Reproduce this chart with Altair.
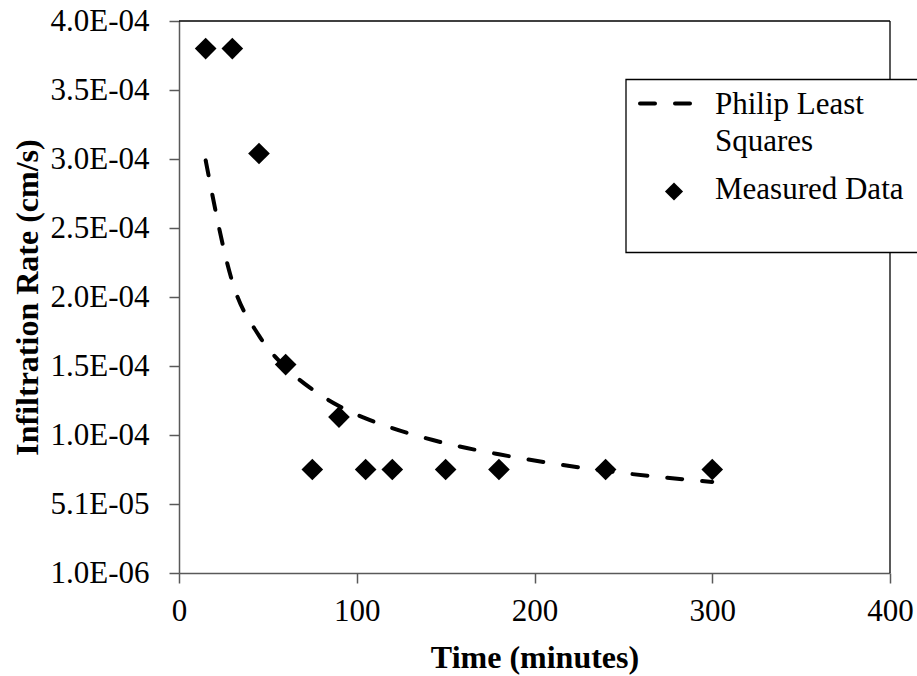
import altair as alt
import pandas as pd

# ---- data ----
meas_t = [15, 30, 45, 60, 75, 90, 105, 120, 150, 180, 240, 300]
meas_v = [3.81e-4, 3.81e-4, 3.05e-4, 1.52e-4, 7.6e-5, 1.14e-4,
          7.6e-5, 7.6e-5, 7.6e-5, 7.6e-5, 7.6e-5, 7.6e-5]
fit_t = [15, 30, 45, 60, 75, 90, 105, 120, 150, 180, 240, 300]
fit_v = [3.00e-4, 2.12e-4, 1.73e-4, 1.50e-4, 1.34e-4, 1.22e-4,
         1.13e-4, 1.06e-4, 9.5e-5, 8.7e-5, 7.5e-5, 6.7e-5]
x_ticks = [0, 100, 200, 300, 400]
y_ticks = [1.0e-6, 5.1e-5, 1.01e-4, 1.51e-4, 2.01e-4, 2.51e-4, 3.01e-4, 3.51e-4, 4.01e-4]
series = ["Philip Least Squares", "Measured Data"]
x_title = "Time (minutes)"
y_title = "Infiltration Rate (cm/s)"

FONT = "Liberation Serif"
W, H = 711, 552

meas_df = pd.DataFrame({"t": meas_t, "v": meas_v})
fit_df = pd.DataFrame({"t": fit_t, "v": fit_v})

xs = alt.Scale(domain=[x_ticks[0], x_ticks[-1]], nice=False, zero=False)
ys = alt.Scale(domain=[y_ticks[0], y_ticks[-1]], nice=False, zero=False)

x_axis = alt.Axis(values=x_ticks, title=x_title, format="d", labelFlush=False,
                  labelBaseline="alphabetic", labelPadding=37, labelOverlap=False,
                  titleX=W / 2, titleY=94, titleBaseline="alphabetic", titleAlign="center")
y_axis = alt.Axis(values=y_ticks, title=y_title, labelPadding=20, labelOverlap=False,
                  labelFlush=False,
                  labelExpr="replace(format(datum.value, '.1e'), 'e-', 'E-0')",
                  titleX=-141.5, titleY=H / 2, titleBaseline="alphabetic", titleAlign="center")

X = alt.X("t:Q", scale=xs, axis=x_axis)
Y = alt.Y("v:Q", scale=ys, axis=y_axis)

# frame (top and right border) drawn through the scales
top_df = pd.DataFrame({"t": [x_ticks[0]], "t2": [x_ticks[-1]], "v": [y_ticks[-1]]})
right_df = pd.DataFrame({"t": [x_ticks[-1]], "v": [y_ticks[0]], "v2": [y_ticks[-1]]})
top_rule = alt.Chart(top_df).mark_rule(color="black", strokeWidth=1.3).encode(
    x=X, x2="t2:Q", y=Y)
right_rule = alt.Chart(right_df).mark_rule(color="black", strokeWidth=1.3).encode(
    x=X, y=Y, y2="v2:Q")

line = alt.Chart(fit_df).mark_line(
    color="black", strokeWidth=4, strokeDash=[15, 20], strokeCap="round",
    interpolate="monotone").encode(x=X, y=Y)

pts = alt.Chart(meas_df).mark_point(
    shape="diamond", filled=True, size=470, color="black", opacity=1).encode(x=X, y=Y)

# ---- legend box ----
one = pd.DataFrame({"k": [0]})
leg_box = alt.Chart(one).mark_rect(fill="white", stroke="black", strokeWidth=1.3).encode(
    x=alt.value(447), x2=alt.value(760), y=alt.value(58.5), y2=alt.value(231.5))
leg_dash = alt.Chart(one).mark_rule(
    color="black", strokeWidth=4, strokeDash=[15, 20], strokeCap="round").encode(
    x=alt.value(461), x2=alt.value(511), y=alt.value(82.5))
leg_diam = alt.Chart(one).mark_point(
    shape="diamond", filled=True, size=330, color="black", opacity=1).encode(
    x=alt.value(495), y=alt.value(170.5))
lab1 = pd.DataFrame({"label": [series[0].replace("Least ", "Least\n")]})
lab2 = pd.DataFrame({"label": [series[1]]})
leg_t1 = alt.Chart(lab1).mark_text(
    font=FONT, fontSize=31, align="left", baseline="alphabetic", color="black",
    lineBreak="\n", lineHeight=37).encode(
    x=alt.value(536), y=alt.value(92.5), text="label:N")
leg_t2 = alt.Chart(lab2).mark_text(
    font=FONT, fontSize=31, align="left", baseline="alphabetic", color="black").encode(
    x=alt.value(536), y=alt.value(177.5), text="label:N")

chart = alt.layer(
    top_rule, right_rule, line, pts, leg_box, leg_dash, leg_diam, leg_t1, leg_t2
).properties(
    width=W, height=H,
    autosize=alt.AutoSizeParams(type="none"),
    padding={"left": 179, "top": 21, "right": 27, "bottom": 103},
    background="white",
).configure_axis(
    domainColor="#595959", domainWidth=1.5,
    tickColor="#595959", tickWidth=1.5, tickSize=10,
    labelFont=FONT, labelFontSize=31, labelColor="black",
    titleFont=FONT, titleFontSize=32, titleFontWeight="bold", titleColor="black",
    grid=False,
).configure_view(strokeWidth=0)

chart.save("out.html", embed_options={"renderer": "svg", "actions": False})
